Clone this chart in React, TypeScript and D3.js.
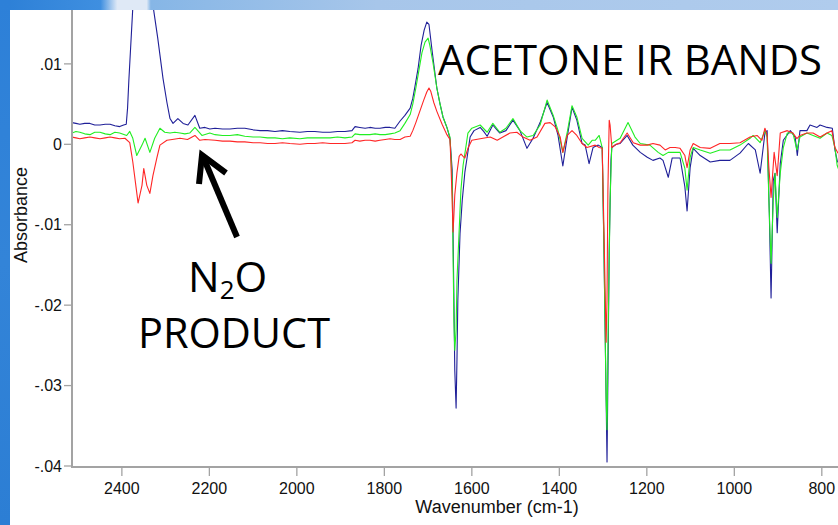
import React from "react";
import * as d3 from "d3";

const WIDTH = 838;
const HEIGHT = 525;

type Pt = [number, number]; // [wavenumber cm-1, absorbance]

const blueSpectrum: Pt[] = [
  [2514, 0.0027], [2505, 0.0026], [2496, 0.0025], [2485, 0.0026], [2473, 0.0026], [2462, 0.0024],
  [2450, 0.0024], [2438, 0.0025], [2427, 0.0025], [2416, 0.0023], [2405, 0.0022], [2396, 0.0024],
  [2390, 0.0025], [2387, 0.0045], [2384, 0.008], [2380, 0.012], [2376, 0.016], [2370, 0.022],
  [2362, 0.028], [2352, 0.032], [2342, 0.029], [2335, 0.024], [2329, 0.0173], [2318, 0.0132],
  [2306, 0.0082], [2297, 0.0052], [2290, 0.0032], [2283, 0.0026], [2272, 0.0032], [2260, 0.0026],
  [2249, 0.0024], [2233, 0.0036], [2222, 0.002], [2210, 0.0021], [2199, 0.0019], [2187, 0.002],
  [2170, 0.0019], [2153, 0.0019], [2136, 0.002], [2119, 0.002], [2100, 0.0018], [2084, 0.0017],
  [2067, 0.0017], [2050, 0.0016], [2033, 0.0017], [2016, 0.0016], [1993, 0.0015], [1976, 0.0016],
  [1959, 0.0016], [1941, 0.0015], [1924, 0.0015], [1907, 0.0016], [1890, 0.0016], [1874, 0.0017],
  [1867, 0.0022], [1856, 0.0021], [1844, 0.002], [1833, 0.0021], [1821, 0.002], [1810, 0.002],
  [1798, 0.0021], [1787, 0.0021], [1776, 0.002], [1764, 0.0029], [1753, 0.0036], [1741, 0.0045],
  [1735, 0.0057], [1730, 0.0072], [1723, 0.0094], [1716, 0.0123], [1709, 0.0142], [1703, 0.0152],
  [1698, 0.0149], [1691, 0.0117], [1680, 0.007], [1673, 0.0051], [1666, 0.0034], [1657, 0.0021],
  [1650, 0.00075], [1645, -0.0032], [1643, -0.0107], [1641, -0.0194], [1639, -0.0281], [1636, -0.0328],
  [1634, -0.0268], [1632, -0.0194], [1627, -0.0111], [1622, -0.007], [1616, -0.0035], [1611, -0.0017],
  [1604, 0.0009], [1595, 0.0017], [1581, 0.0021], [1573, 0.0016], [1565, 0.001], [1552, 0.0024],
  [1544, 0.0019], [1536, 0.0014], [1522, 0.0017], [1506, 0.003], [1490, 0.0017], [1474, -0.0005],
  [1460, 0.00075], [1444, 0.0027], [1428, 0.0052], [1414, 0.0034], [1403, 0.0011], [1392, -0.0027],
  [1382, 0.0009], [1371, 0.0046], [1360, 0.003], [1348, 0.0001], [1341, -0.0001], [1332, -0.0024],
  [1323, -0.0004], [1311, -0.0001], [1302, -0.0004], [1298, -0.013], [1293, -0.0318], [1291, -0.0395],
  [1289, -0.0293], [1286, -0.0131], [1282, -0.002], [1280, -0.0004], [1270, 0.0], [1261, 0.0001],
  [1245, 0.0011], [1232, -0.0001], [1215, -0.001], [1199, -0.0016], [1186, -0.002], [1170, -0.0017],
  [1163, -0.002], [1151, -0.0041], [1142, -0.0017], [1124, -0.0017], [1113, -0.0053], [1108, -0.0083],
  [1101, -0.0029], [1094, -0.0005], [1078, -0.0014], [1055, -0.0022], [1033, -0.002], [1010, -0.002],
  [987, -0.0011], [968, 0.0001], [952, -0.0007], [941, -0.0036], [930, 0.0014], [925, 0.0017],
  [920, -0.0086], [916, -0.0191], [911, -0.0045], [907, -0.0036], [902, -0.011], [895, -0.0024],
  [888, 0.0005], [872, 0.0017], [861, 0.0009], [856, -0.0014], [850, 0.0017], [834, 0.0017],
  [827, 0.0024], [811, 0.0021], [804, 0.0024], [788, 0.0021], [776, 0.002], [770, -0.0007],
  [765, -0.002], [760, -0.0025],
];

const greenSpectrum: Pt[] = [
  [2514, 0.0014], [2505, 0.0016], [2496, 0.0015], [2485, 0.0013], [2473, 0.0012], [2462, 0.0015],
  [2450, 0.0015], [2438, 0.0013], [2427, 0.0012], [2416, 0.0015], [2405, 0.0014], [2389, 0.0011],
  [2382, 0.0016], [2375, 0.00075], [2366, -0.0014], [2354, -0.0001], [2347, 0.00075], [2336, -0.001],
  [2325, 0.00075], [2313, 0.002], [2302, 0.0015], [2290, 0.0014], [2279, 0.0015], [2267, 0.0014],
  [2256, 0.0013], [2245, 0.0014], [2233, 0.0021], [2217, 0.0011], [2199, 0.0014], [2187, 0.0012],
  [2170, 0.0011], [2153, 0.0011], [2136, 0.0012], [2119, 0.001], [2100, 0.0009], [2084, 0.0009],
  [2067, 0.0008], [2050, 0.0008], [2033, 0.0007], [2016, 0.0008], [1993, 0.0007], [1976, 0.0008],
  [1959, 0.0008], [1941, 0.0008], [1924, 0.0008], [1907, 0.0009], [1890, 0.0008], [1874, 0.0009],
  [1867, 0.0013], [1856, 0.0012], [1844, 0.0012], [1833, 0.0012], [1821, 0.0013], [1810, 0.0012],
  [1798, 0.0012], [1787, 0.0013], [1776, 0.0014], [1764, 0.0017], [1753, 0.0026], [1741, 0.0037],
  [1735, 0.005], [1728, 0.007], [1721, 0.0092], [1714, 0.0114], [1707, 0.0127], [1700, 0.0132],
  [1696, 0.0123], [1689, 0.0102], [1680, 0.007], [1673, 0.0051], [1666, 0.0034], [1657, 0.0021],
  [1650, 0.0009], [1645, -0.0045], [1643, -0.0132], [1641, -0.0219], [1639, -0.0256], [1636, -0.0231],
  [1634, -0.0169], [1629, -0.0107], [1625, -0.0057], [1620, -0.0026], [1613, -0.0001], [1609, 0.0014],
  [1600, 0.002], [1581, 0.0024], [1565, 0.0015], [1552, 0.0026], [1536, 0.0015], [1522, 0.002],
  [1506, 0.0032], [1490, 0.0017], [1474, 0.0009], [1460, 0.0011], [1444, 0.0024], [1428, 0.0055],
  [1414, 0.0036], [1403, 0.0017], [1392, -0.001], [1382, 0.0015], [1371, 0.0048], [1360, 0.0034],
  [1348, 0.00075], [1334, -0.0001], [1325, 0.0005], [1318, 0.0005], [1309, 0.0011], [1302, -0.0004],
  [1298, -0.0132], [1293, -0.0318], [1291, -0.0355], [1289, -0.0256], [1284, -0.007], [1280, 0.0001],
  [1261, 0.00075], [1243, 0.0027], [1227, 0.0009], [1215, 0.0001], [1193, -0.0001], [1174, -0.001],
  [1163, -0.0014], [1151, -0.001], [1140, -0.001], [1124, -0.001], [1113, -0.003], [1108, -0.0057],
  [1101, -0.0016], [1094, -0.0004], [1078, -0.0007], [1055, -0.0011], [1033, -0.0007], [1010, -0.0007],
  [987, -0.0001], [964, 0.00075], [957, 0.0011], [941, 0.0002], [930, 0.0017], [925, 0.0009],
  [921, -0.007], [916, -0.0148], [911, -0.007], [907, -0.0036], [902, -0.0091], [895, -0.0036],
  [888, -0.0004], [879, 0.0014], [866, 0.0014], [857, -0.0007], [850, 0.0009], [834, 0.0014],
  [820, 0.0011], [804, 0.00075], [788, 0.0014], [777, 0.0011], [770, -0.0004], [765, -0.0026],
  [761, -0.0032],
];

const redSpectrum: Pt[] = [
  [2514, 0.0009], [2505, 0.0008], [2496, 0.0007], [2485, 0.0008], [2473, 0.0009], [2462, 0.0008],
  [2450, 0.0007], [2438, 0.0008], [2427, 0.0009], [2416, 0.0008], [2405, 0.0007], [2393, 0.00075],
  [2382, 0.0002], [2375, -0.0022], [2366, -0.006], [2363, -0.0073], [2354, -0.0051], [2350, -0.003],
  [2343, -0.0051], [2336, -0.0061], [2329, -0.0039], [2320, -0.0017], [2313, -0.0001], [2297, 0.0005],
  [2285, 0.0006], [2267, 0.00075], [2250, 0.0006], [2233, 0.0011], [2222, 0.0005], [2210, 0.0006],
  [2187, 0.0005], [2170, 0.0004], [2153, 0.0004], [2136, 0.0003], [2119, 0.0003], [2100, 0.0002],
  [2084, 0.0002], [2067, 0.0001], [2050, 0.0001], [2033, 0.0002], [2016, 0.0001], [1993, 0.0],
  [1976, 0.0001], [1959, 0.0001], [1941, 0.0002], [1924, 0.0001], [1907, 0.0001], [1890, 0.0001],
  [1874, 0.0002], [1867, 0.0005], [1856, 0.0004], [1844, 0.0005], [1833, 0.0005], [1821, 0.0004],
  [1810, 0.0005], [1798, 0.0006], [1787, 0.0007], [1776, 0.0006], [1764, 0.0006], [1753, 0.0009],
  [1741, 0.001], [1735, 0.0017], [1728, 0.0027], [1719, 0.0041], [1710, 0.0055], [1703, 0.0065],
  [1698, 0.007], [1694, 0.0066], [1687, 0.0052], [1680, 0.0041], [1668, 0.0025], [1657, 0.0012],
  [1650, 0.0006], [1648, -0.002], [1645, -0.007], [1643, -0.0109], [1641, -0.0088], [1639, -0.0063],
  [1634, -0.0035], [1629, -0.0015], [1625, -0.0012], [1620, -0.0015], [1616, -0.0017], [1609, -0.0005],
  [1600, 0.0005], [1581, 0.0007], [1558, 0.0009], [1542, 0.0005], [1529, 0.0009], [1513, 0.0014],
  [1497, 0.0015], [1483, 0.0009], [1467, 0.0005], [1451, 0.0009], [1433, 0.0026], [1421, 0.0027],
  [1410, 0.0022], [1398, 0.0009], [1392, -0.001], [1382, 0.0011], [1371, 0.0017], [1360, 0.0011],
  [1348, 0.0001], [1337, -0.0004], [1318, -0.0001], [1309, -0.0004], [1302, -0.0005], [1298, -0.0107],
  [1293, -0.0246], [1291, -0.0194], [1289, -0.0057], [1286, 0.003], [1284, 0.0024], [1280, -0.0004],
  [1273, -0.0001], [1261, 0.0002], [1245, 0.0014], [1231, 0.0002], [1215, -0.0001], [1199, -0.0001],
  [1186, 0.0001], [1170, -0.0001], [1158, -0.0007], [1147, -0.0004], [1135, -0.0004], [1124, -0.0005],
  [1113, -0.0014], [1108, -0.0029], [1101, -0.0007], [1094, 0.0001], [1078, -0.0004], [1055, -0.0005],
  [1033, 0.0001], [1010, 0.0001], [987, 0.0002], [964, 0.0009], [948, 0.0011], [937, 0.0005],
  [930, 0.002], [925, 0.0011], [921, -0.0029], [916, -0.0066], [911, -0.0026], [909, -0.001],
  [902, -0.0039], [895, 0.0014], [879, 0.0017], [866, 0.0014], [857, 0.0007], [850, 0.0011],
  [834, 0.0014], [820, 0.0014], [804, 0.0009], [788, 0.0014], [777, 0.0017], [770, -0.0004],
  [763, -0.0011],
];

const xTicks = [2400, 2200, 2000, 1800, 1600, 1400, 1200, 1000, 800];
const yTicks = [0.01, 0, -0.01, -0.02, -0.03, -0.04];
const yTickLabels = [".01", "0", "-.01", "-.02", "-.03", "-.04"];

const series = [
  { name: "blue", data: blueSpectrum, color: "#1f1f98" },
  { name: "green", data: greenSpectrum, color: "#22ee22" },
  { name: "red", data: redSpectrum, color: "#ff2626" },
];

const AXIS_FONT = "'Liberation Sans', Arial, sans-serif";
const NOTE_FONT = "'Open Sans', 'Noto Sans', sans-serif";

export default function App() {
  const left = 72;
  const right = 838;
  const top = 10;
  const axisY = 467;

  const x = d3.scaleLinear().domain([2514, 763]).range([left, right]);
  const y = d3.scaleLinear().domain([-0.04, 0.0167]).range([466, top]);
  const line = d3
    .line<Pt>()
    .x((d) => x(d[0]))
    .y((d) => y(d[1]));

  return (
    <svg
      width={WIDTH}
      height={HEIGHT}
      viewBox={`0 0 ${WIDTH} ${HEIGHT}`}
      style={{ position: "absolute", left: 0, top: 0, display: "block" }}
    >
      <defs>
        <linearGradient id="topBand" x1="0" y1="0" x2="1" y2="0">
          <stop offset="0" stopColor="#2c7fd6" />
          <stop offset="0.12" stopColor="#3f8fe0" />
          <stop offset="0.14" stopColor="#dfe9f6" />
          <stop offset="0.175" stopColor="#dfe9f6" />
          <stop offset="0.18" stopColor="#86b6e6" />
          <stop offset="0.45" stopColor="#a7c6ea" />
          <stop offset="1" stopColor="#b0cced" />
        </linearGradient>
        <linearGradient id="leftBand" x1="0" y1="0" x2="0" y2="1">
          <stop offset="0" stopColor="#2d80d8" />
          <stop offset="0.5" stopColor="#3384d8" />
          <stop offset="1" stopColor="#2c7ed4" />
        </linearGradient>
        <clipPath id="plotClip">
          <rect x={left} y={0} width={right - left} height={axisY} />
        </clipPath>
      </defs>

      <rect x={0} y={0} width={WIDTH} height={HEIGHT} fill="#ffffff" />

      {/* spectra */}
      <g clipPath="url(#plotClip)" fill="none">
        {series.map((s) => (
          <path key={s.name} d={line(s.data) ?? ""} stroke={s.color} strokeWidth={1.1} strokeLinejoin="round" />
        ))}
      </g>

      {/* axes */}
      <g stroke="#a3a3a3">
        <line x1={left} y1={top} x2={left} y2={axisY + 1} strokeWidth={2} />
        <line x1={left - 1} y1={axisY} x2={right} y2={axisY} strokeWidth={2} />
        {yTicks.map((t) => (
          <line key={`yt${t}`} x1={left - 8} x2={left} y1={y(t)} y2={y(t)} strokeWidth={1.3} />
        ))}
        {xTicks.map((t) => (
          <line key={`xt${t}`} x1={x(t)} x2={x(t)} y1={axisY} y2={axisY + 9} strokeWidth={1.3} />
        ))}
      </g>
      <g fontFamily={AXIS_FONT} fontSize={16} fill="#111">
        {yTicks.map((t, i) => (
          <text key={`yl${t}`} x={left - 10} y={y(t)} dy="0.36em" textAnchor="end">
            {yTickLabels[i]}
          </text>
        ))}
        {xTicks.map((t) => (
          <text key={`xl${t}`} x={x(t)} y={494} textAnchor="middle">
            {t}
          </text>
        ))}
      </g>
      <text x={497} y={513} textAnchor="middle" fontFamily={AXIS_FONT} fontSize={18} fill="#111">
        Wavenumber (cm-1)
      </text>
      <text
        transform="translate(27,215) rotate(-90)"
        textAnchor="middle"
        fontFamily={AXIS_FONT}
        fontSize={18}
        fill="#111"
      >
        Absorbance
      </text>

      {/* annotations */}
      <g fontFamily={NOTE_FONT} fontSize={42} fill="#000">
        <text x={438} y={75} textLength={384} lengthAdjust="spacingAndGlyphs">
          ACETONE IR BANDS
        </text>
        <text x={188} y={292}>
          N
          <tspan dy={7} fontSize={26}>2</tspan>
          <tspan dy={-7}>O</tspan>
        </text>
        <text x={138} y={348} textLength={192} lengthAdjust="spacingAndGlyphs">
          PRODUCT
        </text>
      </g>
      <g stroke="#000" strokeWidth={6} fill="none" strokeLinejoin="miter">
        <line x1={237} y1={237} x2={204} y2={159} />
        <polyline points="199,184 202,155 226,173" />
      </g>

      {/* slide backdrop edges */}
      <rect x={0} y={0} width={WIDTH} height={10} fill="url(#topBand)" />
      <rect x={0} y={0} width={10} height={HEIGHT} fill="url(#leftBand)" />
    </svg>
  );
}
